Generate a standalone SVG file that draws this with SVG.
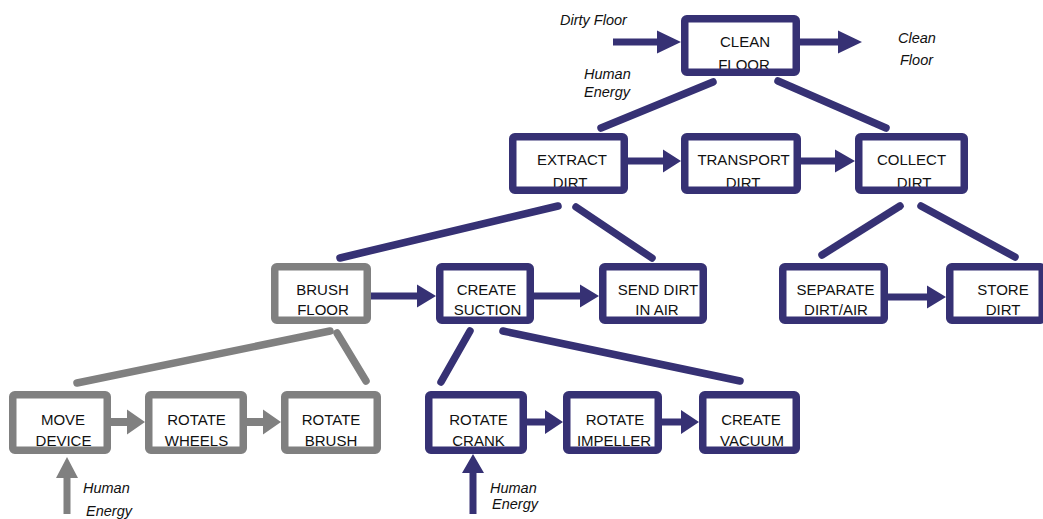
<svg xmlns="http://www.w3.org/2000/svg" width="1043" height="519" viewBox="0 0 1043 519">
<style>
.bg{fill:#fff;stroke:none}
.nv{fill:none;stroke:#363174;stroke-width:7.5}
.gr{fill:none;stroke:#808080;stroke-width:7.5}
.t{font-family:"Liberation Sans",Arial,sans-serif;font-size:15px;fill:#111;text-anchor:middle}
.l{font-family:"Liberation Sans",Arial,sans-serif;font-size:14.5px;font-style:italic;fill:#111}
.ln{stroke:#363174;stroke-width:7.5;stroke-linecap:round;fill:none}
.lg{stroke:#808080;stroke-width:7.5;stroke-linecap:round;fill:none}
.an{fill:#363174}
.ag{fill:#808080}
</style>
<rect width="1043" height="519" fill="#fff"/>
<g id="connectors">
<line class="ln" x1="713" y1="82" x2="601" y2="128"/>
<line class="ln" x1="778" y1="81" x2="886" y2="128"/>
<line class="ln" x1="558" y1="206" x2="340" y2="258"/>
<line class="ln" x1="576" y1="207" x2="652" y2="258"/>
<line class="ln" x1="900" y1="206" x2="822" y2="255"/>
<line class="ln" x1="921" y1="206" x2="1015" y2="257"/>
<line class="lg" x1="330" y1="331" x2="77" y2="383"/>
<line class="lg" x1="337" y1="333" x2="366" y2="381"/>
<line class="ln" x1="470" y1="331" x2="441" y2="382"/>
<line class="ln" x1="503" y1="331" x2="740" y2="381"/>
<polygon class="an" points="613,38.5 657,38.5 657,30.5 681,42 657,53.5 657,45.5 613,45.5"/>
<polygon class="an" points="800,38.5 838,38.5 838,30.5 862,42 838,53.5 838,45.5 800,45.5"/>
<polygon class="an" points="628,157.5 663,157.5 663,149.5 681,161 663,172.5 663,164.5 628,164.5"/>
<polygon class="an" points="801,157.5 835,157.5 835,149.5 855,161 835,172.5 835,164.5 801,164.5"/>
<polygon class="an" points="371,292.5 417,292.5 417,284.5 436,296 417,307.5 417,299.5 371,299.5"/>
<polygon class="an" points="534,292.5 580,292.5 580,284.5 599,296 580,307.5 580,299.5 534,299.5"/>
<polygon class="an" points="888,293.5 927,293.5 927,285.5 946,297 927,308.5 927,300.5 888,300.5"/>
<polygon class="ag" points="111,418 127,418 127,409.5 145,422 127,434.5 127,426 111,426"/>
<polygon class="ag" points="247,418 263,418 263,409.5 281,422 263,434.5 263,426 247,426"/>
<polygon class="an" points="527,418.5 545,418.5 545,410 563,422 545,434 545,425.5 527,425.5"/>
<polygon class="an" points="662,418.5 681,418.5 681,410 699,422 681,434 681,425.5 662,425.5"/>
<polygon class="ag" points="63.5,514 63.5,478 56,478 67,457 78,478 70.5,478 70.5,514"/>
<polygon class="an" points="469.5,514 469.5,473 462,473 473,454 484,473 476.5,473 476.5,514"/>
</g>
<g id="labels">
<text class="l" x="560" y="25">Dirty Floor</text>
<text class="l" x="898" y="43">Clean</text>
<text class="l" x="900" y="65">Floor</text>
<text class="l" x="584" y="79">Human</text>
<text class="l" x="584" y="97">Energy</text>
<text class="l" x="83" y="493">Human</text>
<text class="l" x="86" y="516">Energy</text>
<text class="l" x="490" y="493">Human</text>
<text class="l" x="492" y="509">Energy</text>
</g>
<g id="n-clean"><rect class="bg" x="684.75" y="18.75" width="111.5" height="53.5"/><text class="t" x="745" y="47">CLEAN</text><text class="t" x="744" y="70">FLOOR</text><rect class="nv" x="684.75" y="18.75" width="111.5" height="53.5" rx="2"/></g>
<g id="n-extract"><rect class="bg" x="512.75" y="136.75" width="111.5" height="53.5"/><text class="t" x="572" y="165">EXTRACT</text><text class="t" x="570" y="188">DIRT</text><rect class="nv" x="512.75" y="136.75" width="111.5" height="53.5" rx="2"/></g>
<g id="n-transport"><rect class="bg" x="684.75" y="136.75" width="112.5" height="53.5"/><text class="t" x="743.5" y="165">TRANSPORT</text><text class="t" x="743" y="188">DIRT</text><rect class="nv" x="684.75" y="136.75" width="112.5" height="53.5" rx="2"/></g>
<g id="n-collect"><rect class="bg" x="858.75" y="136.75" width="105.5" height="53.5"/><text class="t" x="911.5" y="165">COLLECT</text><text class="t" x="914" y="188">DIRT</text><rect class="nv" x="858.75" y="136.75" width="105.5" height="53.5" rx="2"/></g>
<g id="n-brush-floor"><rect class="bg" x="274.75" y="266.75" width="92.5" height="53.5"/><text class="t" x="322.5" y="295">BRUSH</text><text class="t" x="323" y="315">FLOOR</text><rect class="gr" x="274.75" y="266.75" width="92.5" height="53.5" rx="2"/></g>
<g id="n-suction"><rect class="bg" x="439.75" y="266.75" width="90.5" height="53.5"/><text class="t" x="486.5" y="295">CREATE</text><text class="t" x="487.5" y="315">SUCTION</text><rect class="nv" x="439.75" y="266.75" width="90.5" height="53.5" rx="2"/></g>
<g id="n-send"><rect class="bg" x="602.75" y="266.75" width="100.5" height="53.5"/><text class="t" x="658" y="295">SEND DIRT</text><text class="t" x="657" y="315">IN AIR</text><rect class="nv" x="602.75" y="266.75" width="100.5" height="53.5" rx="2"/></g>
<g id="n-separate"><rect class="bg" x="782.75" y="266.75" width="101.5" height="53.5"/><text class="t" x="835.5" y="295">SEPARATE</text><text class="t" x="836" y="315">DIRT/AIR</text><rect class="nv" x="782.75" y="266.75" width="101.5" height="53.5" rx="2"/></g>
<g id="n-store"><rect class="bg" x="949.75" y="266.75" width="92.5" height="53.5"/><text class="t" x="1003" y="295">STORE</text><text class="t" x="1003" y="315">DIRT</text><rect class="nv" x="949.75" y="266.75" width="92.5" height="53.5" rx="2"/></g>
<g id="n-move"><rect class="bg" x="12.75" y="394.75" width="94.5" height="55.5"/><text class="t" x="63" y="425">MOVE</text><text class="t" x="63.5" y="446">DEVICE</text><rect class="gr" x="12.75" y="394.75" width="94.5" height="55.5" rx="2"/></g>
<g id="n-wheels"><rect class="bg" x="148.75" y="394.75" width="94.5" height="55.5"/><text class="t" x="196.5" y="425">ROTATE</text><text class="t" x="196.5" y="446">WHEELS</text><rect class="gr" x="148.75" y="394.75" width="94.5" height="55.5" rx="2"/></g>
<g id="n-rbrush"><rect class="bg" x="284.75" y="394.75" width="92.5" height="55.5"/><text class="t" x="331" y="425">ROTATE</text><text class="t" x="331" y="446">BRUSH</text><rect class="gr" x="284.75" y="394.75" width="92.5" height="55.5" rx="2"/></g>
<g id="n-crank"><rect class="bg" x="428.75" y="394.75" width="94.5" height="55.5"/><text class="t" x="478.5" y="425">ROTATE</text><text class="t" x="478.5" y="446">CRANK</text><rect class="nv" x="428.75" y="394.75" width="94.5" height="55.5" rx="2"/></g>
<g id="n-impeller"><rect class="bg" x="566.75" y="394.75" width="91.5" height="55.5"/><text class="t" x="615" y="425">ROTATE</text><text class="t" x="614" y="446">IMPELLER</text><rect class="nv" x="566.75" y="394.75" width="91.5" height="55.5" rx="2"/></g>
<g id="n-vacuum"><rect class="bg" x="702.75" y="394.75" width="93.5" height="55.5"/><text class="t" x="751" y="425">CREATE</text><text class="t" x="752" y="446">VACUUM</text><rect class="nv" x="702.75" y="394.75" width="93.5" height="55.5" rx="2"/></g>
</svg>
